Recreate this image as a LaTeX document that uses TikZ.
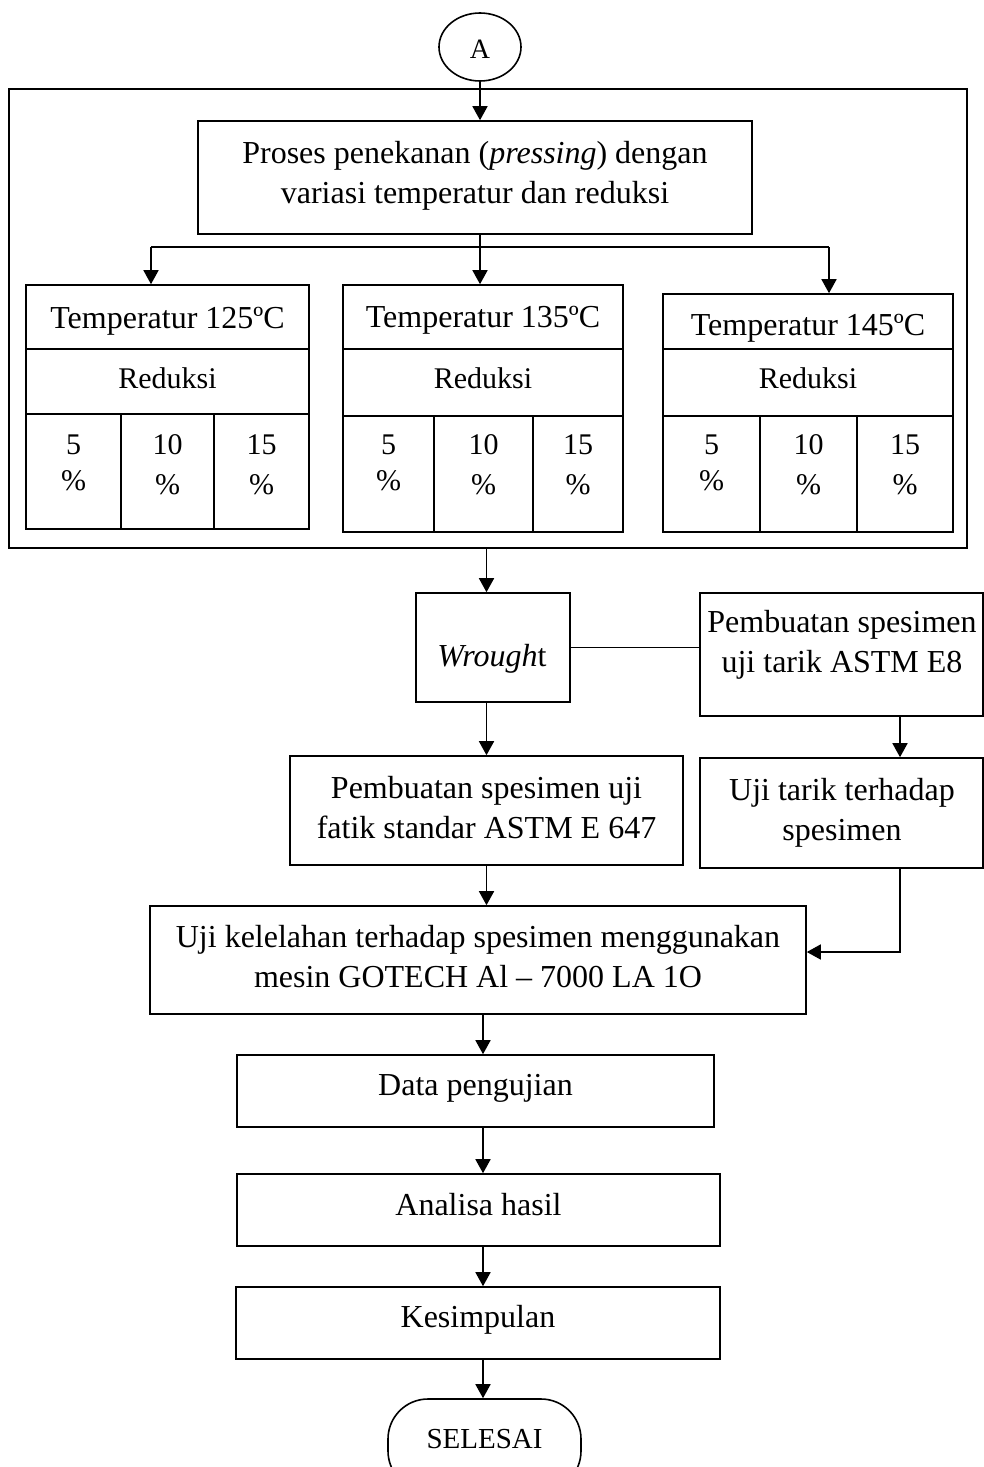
\documentclass[tikz,border=0pt]{standalone}
\usepackage{fontspec}
\setmainfont{Liberation Serif}
\usetikzlibrary{arrows.meta,shapes.geometric}
\newcommand\mybox[6][]{\node[boxst,#1,minimum width={(#5-#3)*0.5pt},minimum height={(#6-#4)*0.5pt}] (#2) at ({(#3+#5)/2},{(#4+#6)/2}) {};}
\newcommand\twol[2]{\begin{tabular}[t]{@{}c@{}}#1\\#2\end{tabular}}
\begin{document}
\begin{tikzpicture}[x=0.5pt,y=-0.5pt,
  boxst/.style={draw,line width=0.8pt,inner sep=0pt},
  txt/.style={font=\fontsize{16}{20.4}\selectfont,inner sep=0pt,anchor=base},
  ctxt/.style={font=\fontsize{15}{18}\selectfont,inner sep=0pt,anchor=base},
  arr/.style={-{Triangle[length=7pt,width=7.5pt]},line width=0.8pt},
  ln/.style={line width=0.8pt}]
\clip (0,0) rectangle (984,1467);
\fill[white] (0,0) rectangle (984,1467);
% outer frame
\mybox[line width=1pt]{frame}{9}{89}{967}{548}
% connector A
\node[ellipse,draw,line width=0.8pt,minimum width=41pt,minimum height=34pt,inner sep=0pt] (ca) at (480,47) {};
\node[txt,font=\fontsize{14}{16}\selectfont] (catx) at (480,58) {A};
% pressing box
\mybox{proses}{198}{121}{752}{234}
\node[txt] (prosestx) at (475,163) {\twol{Proses penekanan (\textit{pressing}) dengan}{variasi temperatur dan reduksi}};
% table 1
\mybox{t1a}{26}{285}{309}{349}
\mybox{t1b}{26}{349}{309}{414}
\mybox{t1c}{26}{414}{121}{529}
\mybox{t1d}{121}{414}{214}{529}
\mybox{t1e}{214}{414}{309}{529}
\node[txt] (t1atx) at (167.5,328) {Temperatur 125ºC};
\node[ctxt] (t1btx) at (167.5,388) {Reduksi};
\node[ctxt] (t1ctx) at (73.5,454) {5};
\node[ctxt] (t1cp) at (73.5,490) {\%};
\node[ctxt] (t1dtx) at (167.5,454) {10};
\node[ctxt] (t1dp) at (167.5,494) {\%};
\node[ctxt] (t1etx) at (261.5,454) {15};
\node[ctxt] (t1ep) at (261.5,494) {\%};
% table 2
\mybox{t2a}{343}{285}{623}{349}
\mybox{t2b}{343}{349}{623}{416}
\mybox{t2c}{343}{416}{434}{532}
\mybox{t2d}{434}{416}{533}{532}
\mybox{t2e}{533}{416}{623}{532}
\node[txt] (t2atx) at (483,327) {Temperatur 135ºC};
\node[ctxt] (t2btx) at (483,388) {Reduksi};
\node[ctxt] (t2ctx) at (388.5,454) {5};
\node[ctxt] (t2cp) at (388.5,490) {\%};
\node[ctxt] (t2dtx) at (483.5,454) {10};
\node[ctxt] (t2dp) at (483.5,494) {\%};
\node[ctxt] (t2etx) at (578,454) {15};
\node[ctxt] (t2ep) at (578,494) {\%};
% table 3
\mybox{t3a}{663}{294}{953}{349}
\mybox{t3b}{663}{349}{953}{416}
\mybox{t3c}{663}{416}{760}{532}
\mybox{t3d}{760}{416}{857}{532}
\mybox{t3e}{857}{416}{953}{532}
\node[txt] (t3atx) at (808,335) {Temperatur 145ºC};
\node[ctxt] (t3btx) at (808,388) {Reduksi};
\node[ctxt] (t3ctx) at (711.5,454) {5};
\node[ctxt] (t3cp) at (711.5,490) {\%};
\node[ctxt] (t3dtx) at (808.5,454) {10};
\node[ctxt] (t3dp) at (808.5,494) {\%};
\node[ctxt] (t3etx) at (905,454) {15};
\node[ctxt] (t3ep) at (905,494) {\%};
% lower boxes
\mybox{wr}{416}{593}{570}{702}
\node[txt] (wrtx) at (492,666) {\textit{Wrough}t};
\mybox{pemb}{700}{593}{983}{716}
\node[txt] (pembtx) at (842,632) {\twol{Pembuatan spesimen}{uji tarik ASTM E8}};
\mybox{ujitarik}{700}{758}{983}{868}
\node[txt] (ujitariktx) at (842,800) {\twol{Uji tarik terhadap}{spesimen}};
\mybox{fatik}{290}{756}{683}{865}
\node[txt] (fatiktx) at (486.5,798) {\twol{Pembuatan spesimen uji}{fatik standar ASTM E 647}};
\mybox{kel}{150}{906}{806}{1014}
\node[txt] (keltx) at (478,947) {\twol{Uji kelelahan terhadap spesimen menggunakan}{mesin GOTECH Al -- 7000 LA 1O}};
\mybox{data}{237}{1055}{714}{1127}
\node[txt] (datatx) at (475.5,1095) {Data pengujian};
\mybox{anal}{237}{1174}{720}{1246}
\node[txt] (analtx) at (478.5,1215) {Analisa hasil};
\mybox{kes}{236}{1287}{720}{1359}
\node[txt] (kestx) at (478,1327) {Kesimpulan};
\node[draw,line width=0.8pt,rounded corners=20pt,minimum width=96.5pt,minimum height=46pt,inner sep=0pt] (sel) at (484.5,1445) {};
\node[txt,font=\fontsize{14.5}{16}\selectfont] (seltx) at (484.5,1448) {SELESAI};
% connectors
\coordinate (bl) at (151,247);
\coordinate (bR) at (829,247);
\coordinate (cx) at (900,0);
\coordinate (cy) at (0,952);
\coordinate (mx) at (483,0);
\draw[arr] (ca.south) -- (ca.south |- proses.north);
\draw[ln] (proses.south -| ca) -- (ca |- bl);
\draw[arr] (proses.south -| ca) -- (ca |- t2a.north);
\draw[ln] (bl) -- (bR);
\draw[arr] (bl) -- (bl |- t1a.north);
\draw[arr] (bR) -- (bR |- t3a.north);
\draw[arr] (frame.south -| fatik) -- (fatik |- wr.north);
\draw[arr] (wr.south -| fatik) -- (fatik.north);
\draw[ln] (wr.east) -- (wr.east -| pemb.west);
\draw[arr] (pemb.south -| cx) -- (ujitarik.north -| cx);
\draw[arr] (fatik.south) -- (fatik.south |- kel.north);
\draw[arr] (ujitarik.south -| cx) |- (kel.east |- cy);
\draw[arr] (kel.south -| mx) -- (data.north -| mx);
\draw[arr] (data.south -| mx) -- (anal.north -| mx);
\draw[arr] (anal.south -| mx) -- (kes.north -| mx);
\draw[arr] (kes.south -| mx) -- (sel.north -| mx);
\end{tikzpicture}
\end{document}
